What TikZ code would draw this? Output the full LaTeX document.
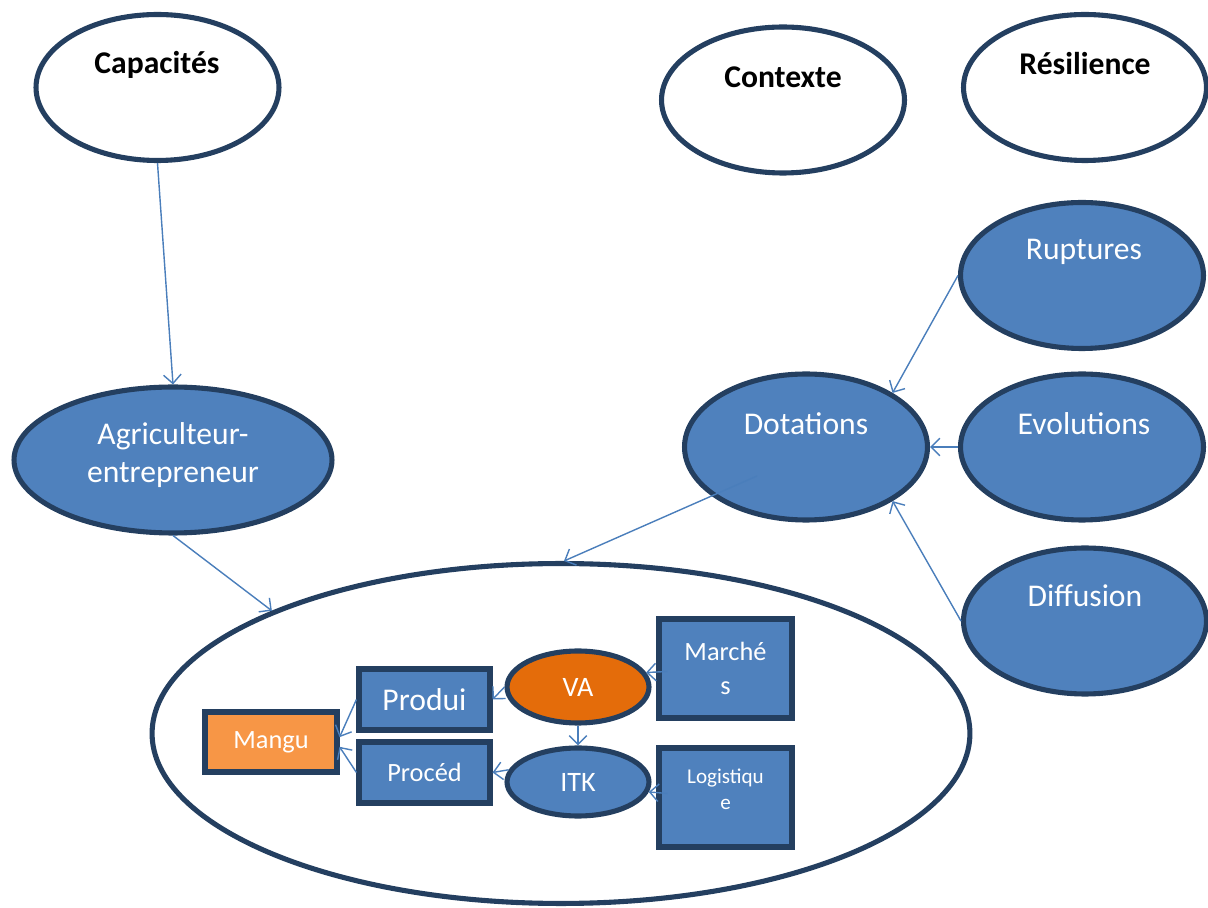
\documentclass[tikz,border=0pt]{standalone}
\usepackage{fontspec}
\setmainfont{Carlito}
\usetikzlibrary{shapes.geometric,arrows.meta,calc}
\definecolor{bleu}{HTML}{4F81BD}
\definecolor{bord}{HTML}{243F60}
\definecolor{fleche}{HTML}{4A7EBB}
\definecolor{orfonce}{HTML}{E46C0A}
\definecolor{orclair}{HTML}{F79646}
\begin{document}
\begin{tikzpicture}[x=0.02cm,y=-0.02cm,
    bulle/.style={ellipse,draw=bord,line width=2.9pt,fill=bleu,inner sep=0pt,minimum width=4.86cm,minimum height=2.92cm},
    vide/.style={bulle,fill=white},
    titre/.style={font=\fontsize{18}{21.6}\selectfont\bfseries},
    etiq/.style={text=white,font=\fontsize{18}{21.6}\selectfont,align=center},
    boite/.style={rectangle,draw=bord,line width=2.9pt,fill=bleu,text=white,inner sep=0pt,align=center},
    fl/.style={draw=fleche,line width=0.8pt,-{Straight Barb[length=5pt,width=10pt]}}]
    \useasboundingbox (0,0) rectangle (1208,908);
    % ellipses du haut
    \node[vide] (cap) at (157.5,87.5) {};
    \node[vide] (ctx) at (783,100) {};
    \node[vide] (res) at (1085,87.5) {};
    \node[titre] (tcap) at (157,65) {Capacités};
    \node[titre] (tctx) at (783,77) {Contexte};
    \node[titre] (tres) at (1085,64) {Résilience};
    % facteurs
    \node[bulle] (rup) at (1082,275.5) {};
    \node[bulle] (evo) at (1082,447) {};
    \node[bulle] (dif) at (1085,621) {};
    \node[bulle] (dot) at (806,447) {};
    \node[bulle,minimum width=6.36cm] (agr) at (173,460) {};
    \node[etiq] (trup) at (1084,252) {Ruptures};
    \node[etiq] (tevo) at (1084,424) {Evolutions};
    \node[etiq] (tdif) at (1085,596) {Diffusion};
    \node[etiq] (tdot) at (806,424) {Dotations};
    \node[etiq] (tagr) at (173,455) {Agriculteur-\\entrepreneur};
    % exploitation
    \node[vide,minimum width=16.36cm,minimum height=6.8cm] (big) at (561,733.5) {};
    \node[boite,fill=orclair,minimum width=2.64cm,minimum height=1.2cm,font=\fontsize{15}{18}\selectfont] (man) at (271,742) {Mangu};
    \node[boite,minimum width=2.62cm,minimum height=1.22cm,font=\fontsize{18}{21.6}\selectfont] (prod) at (424.5,699.5) {Produi};
    \node[boite,minimum width=2.62cm,minimum height=1.22cm,font=\fontsize{15}{18}\selectfont] (proc) at (424.5,772.5) {Procéd};
    \node[bulle,fill=orfonce,minimum width=2.84cm,minimum height=1.44cm,text=white,font=\fontsize{16}{19}\selectfont] (va) at (578,687) {VA};
    \node[bulle,minimum width=2.84cm,minimum height=1.36cm,text=white,font=\fontsize{16}{19}\selectfont] (itk) at (578,782) {ITK};
    \node[boite,minimum width=2.66cm,minimum height=1.98cm,font=\fontsize{15}{19.5}\selectfont] (mar) at (725.5,668.5) {Marché\\s};
    \node[boite,minimum width=2.66cm,minimum height=1.98cm] (log) at (725.5,797.5) {};
    \node[etiq,font=\fontsize{12}{15}\selectfont] (tlog) at (725.5,789) {Logistiqu\\e};
    % fleches
    \coordinate (ddep) at (757,476);
    \draw[fl] (cap.south) -- (agr.north);
    \draw[fl] (agr.south) -- (big.157);
    \draw[fl] (ddep) -- (big.89);
    \draw[fl] (rup.west) -- (dot.32);
    \draw[fl] (evo.west) -- (dot.east);
    \draw[fl] (dif.west) -- (dot.-32);
    \draw[fl] (va.west) -- (prod.east);
    \draw[fl] (va.south) -- (itk.north);
    \draw[fl] ($(mar.west)+(11,3)$) -- (va.12);
    \draw[fl] ($(log.west)+(11,-4)$) -- (itk.-8);
    \draw[fl] (itk.170) -- (proc.east);
    \draw[fl] (prod.west) -- (man.4);
    \draw[fl] (proc.west) -- (man.-4);
\end{tikzpicture}
\end{document}
